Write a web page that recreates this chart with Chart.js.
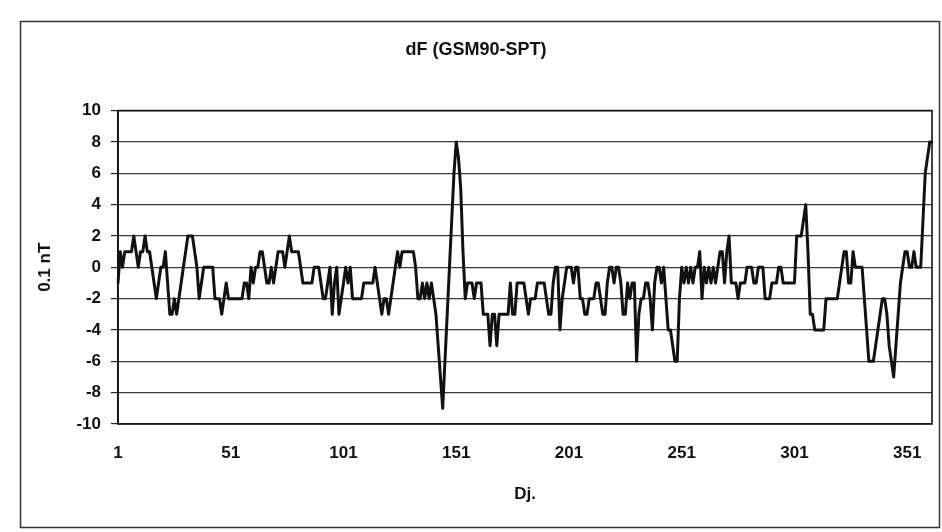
<!DOCTYPE html>
<html>
<head>
<meta charset="utf-8">
<script src="https://cdn.jsdelivr.net/npm/chart.js@4/dist/chart.umd.min.js"></script>
<style>
  body { margin: 0; background: #fff; }
  #wrap { width: 942px; height: 532px; }
</style>
</head>
<body>
<div id="wrap"><canvas id="chart" width="942" height="532"></canvas></div>
<script>
// dF (GSM90-SPT), daily values in 0.1 nT, day 1..362
const dfValues = [
  -1, 1, 0, 1, 1, 1, 1, 2, 1, 0,
  1, 1, 2, 1, 1, 0, -1, -2, -1, 0,
  0, 1, -1, -3, -3, -2, -3, -2, -1, 0,
  1, 2, 2, 2, 1, 0, -2, -1, 0, 0,
  0, 0, 0, -2, -2, -2, -3, -2, -1, -2,
  -2, -2, -2, -2, -2, -2, -1, -1, -2, 0,
  -1, 0, 0, 1, 1, 0, -1, -1, 0, -1,
  0, 1, 1, 1, 0, 1, 2, 1, 1, 1,
  1, 0, -1, -1, -1, -1, -1, 0, 0, 0,
  -1, -2, -2, -1, 0, -3, -1, 0, -3, -2,
  -1, 0, -1, 0, -2, -2, -2, -2, -2, -1,
  -1, -1, -1, -1, 0, -1, -2, -3, -2, -2,
  -3, -2, -1, 0, 1, 0, 1, 1, 1, 1,
  1, 1, 0, -2, -2, -1, -2, -1, -2, -1,
  -2, -3, -5, -7, -9, -6, -3, 0, 3, 6,
  8, 7, 5, 1, -2, -1, -1, -1, -2, -1,
  -1, -1, -3, -3, -3, -5, -3, -3, -5, -3,
  -3, -3, -3, -3, -1, -3, -3, -1, -1, -1,
  -1, -2, -3, -2, -2, -2, -1, -1, -1, -1,
  -2, -3, -3, -1, 0, 0, -4, -2, -1, 0,
  0, 0, -1, 0, 0, -2, -2, -3, -3, -2,
  -2, -2, -1, -1, -2, -3, -3, -1, 0, 0,
  -1, 0, 0, -1, -3, -3, -1, -2, -1, -1,
  -6, -3, -2, -2, -1, -1, -2, -4, -1, 0,
  0, -1, 0, -2, -4, -4, -5, -6, -6, -2,
  0, -1, 0, -1, 0, -1, 0, 0, 1, -2,
  0, -1, 0, -1, 0, -1, 0, 1, 1, -1,
  1, 2, -1, -1, -1, -2, -1, -1, -1, 0,
  0, 0, -1, -1, 0, 0, 0, -2, -2, -2,
  -1, -1, -1, 0, 0, -1, -1, -1, -1, -1,
  -1, 2, 2, 2, 3, 4, 1, -3, -3, -4,
  -4, -4, -4, -4, -2, -2, -2, -2, -2, -2,
  -1, 0, 1, 1, -1, -1, 1, 0, 0, 0,
  0, -2, -4, -6, -6, -6, -5, -4, -3, -2,
  -2, -3, -5, -6, -7, -5, -3, -1, 0, 1,
  1, 0, 0, 1, 0, 0, 0, 3, 6, 7,
  8, 8
];
const days = dfValues.map((v, i) => String(i + 1));
const xTickLabels = ['1', '51', '101', '151', '201', '251', '301', '351'];
const yMin = -10, yMax = 10, yStep = 2;

const FONT = "'Liberation Sans', Arial, sans-serif";

const frames = {
  id: 'frames',
  beforeDraw(chart) {
    const c = chart.ctx;
    c.save();
    c.fillStyle = '#fff';
    c.fillRect(0, 0, chart.width, chart.height);
    c.strokeStyle = '#333';
    c.lineWidth = 1.5;
    c.strokeRect(20.5, 21.5, 919, 506);
    c.restore();
  },
  afterDatasetsDraw(chart) {
    const a = chart.chartArea, c = chart.ctx;
    c.save();
    c.strokeStyle = '#111';
    c.lineWidth = 1.6;
    c.strokeRect(a.left, a.top, a.right - a.left, a.bottom - a.top);
    c.restore();
  }
};

new Chart(document.getElementById('chart').getContext('2d'), {
  type: 'line',
  data: {
    labels: days,
    datasets: [{
      data: dfValues,
      borderColor: '#111',
      borderWidth: 3,
      borderJoinStyle: 'round',
      borderCapStyle: 'round',
      pointRadius: 0,
      tension: 0,
      fill: false
    }]
  },
  options: {
    responsive: false,
    animation: false,
    layout: { padding: { left: 20, right: 10, top: 20, bottom: 20 } },
    plugins: {
      legend: { display: false },
      tooltip: { enabled: false },
      title: {
        display: true,
        text: 'dF (GSM90-SPT)',
        color: '#111',
        font: { family: FONT, size: 18, weight: 'bold' },
        padding: { top: 19, bottom: 50 }
      }
    },
    scales: {
      x: {
        type: 'category',
        offset: false,
        grid: { display: false, drawTicks: false },
        border: { display: false },
        ticks: {
          autoSkip: false,
          maxRotation: 0,
          minRotation: 0,
          padding: 19,
          color: '#111',
          font: { family: FONT, size: 17, weight: 'bold' },
          callback: function(value, index) {
            const lab = days[index];
            return xTickLabels.includes(lab) ? lab : null;
          }
        },
        title: {
          display: true,
          text: 'Dj.',
          color: '#111',
          font: { family: FONT, size: 17, weight: 'bold' },
          padding: { top: 0, bottom: 7 }
        },
        afterFit: function(scale) { scale.height = 88; }
      },
      y: {
        min: yMin,
        max: yMax,
        grid: { color: '#3a3a3a', lineWidth: 1.2, tickLength: 7, tickColor: '#222', drawTicks: true },
        border: { display: true, color: '#111', width: 1.6 },
        ticks: {
          stepSize: yStep,
          padding: 10,
          color: '#111',
          font: { family: FONT, size: 17, weight: 'bold' }
        },
        title: {
          display: true,
          text: '0.1 nT',
          color: '#111',
          font: { family: FONT, size: 17, weight: 'bold' },
          padding: { top: 15, bottom: 0 }
        },
        afterFit: function(scale) { scale.width = 98; }
      }
    }
  },
  plugins: [frames]
});
</script>
</body>
</html>
